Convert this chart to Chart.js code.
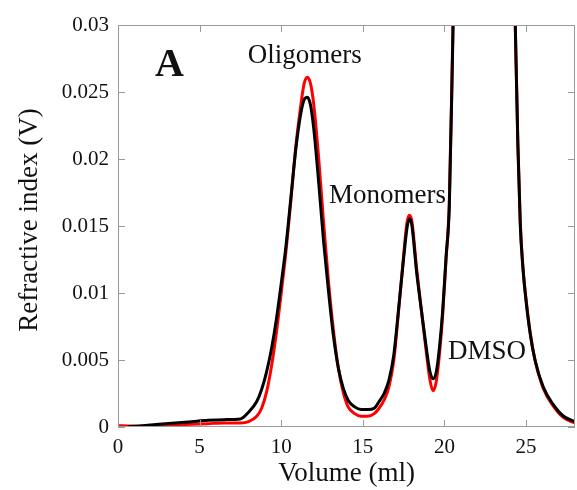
<!DOCTYPE html>
<html>
<head>
<meta charset="utf-8">
<script src="https://cdn.jsdelivr.net/npm/chart.js@4/dist/chart.umd.min.js"></script>
<style>
  html, body { margin: 0; padding: 0; background: #fff; }
  #wrap { width: 577px; height: 490px; }
</style>
</head>
<body>
<div id="wrap"><canvas id="gpc"></canvas></div>
<script>
// Elution volume (ml) at which both refractive-index traces are sampled
const volume = [0, 0.6, 1.5, 2.5, 3.5, 4.5, 5.5, 6.5, 7.5, 8.0, 8.5, 8.8, 9.1, 9.4, 9.7, 10.0,
  10.3, 10.6, 10.9, 11.2, 11.4, 11.6, 11.8, 12.0, 12.3, 12.6, 12.9, 13.2, 13.5, 13.8, 14.1,
  14.5, 14.9, 15.3, 15.7, 16.0, 16.3, 16.6, 16.9, 17.2, 17.5, 17.7, 17.85, 18.0, 18.3, 18.6,
  18.9, 19.1, 19.3, 19.5, 19.7, 19.9, 20.1, 20.3, 20.5, 21.0, 22.4, 24.0, 24.35, 24.5, 24.65,
  24.8, 24.95, 25.25, 25.55, 26.05, 26.65, 27.3, 28.0];

// Black trace (V)
const traceBlack = [null, 0.00002, 0.0001, 0.0002, 0.0003, 0.0004, 0.0005, 0.00055, 0.0006, 0.0011,
  0.0019, 0.0028, 0.0041, 0.0058, 0.0080, 0.0107, 0.0136, 0.0172, 0.0208, 0.0234, 0.0244, 0.0246,
  0.0240, 0.0222, 0.0182, 0.0138, 0.0101, 0.0068, 0.0044, 0.0029, 0.0020, 0.0015, 0.0013, 0.0013,
  0.0014, 0.0019, 0.0025, 0.0035, 0.0054, 0.0089, 0.0126, 0.0148, 0.01555, 0.0151, 0.0115, 0.0086,
  0.0058, 0.0042, 0.0036, 0.0041, 0.0060, 0.0088, 0.0127, 0.0165, 0.0280, 0.060, 0.12, 0.05,
  0.0295, 0.0210, 0.0150, 0.0120, 0.0100, 0.0070, 0.0050, 0.0030, 0.0017, 0.0008, 0.0004];

// Red trace (V)
const traceRed = [0.0001, 0.00008, 0.00005, 0.0001, 0.00015, 0.0002, 0.00025, 0.0003, 0.0003, 0.0004,
  0.0008, 0.0014, 0.0026, 0.0045, 0.0070, 0.0100, 0.0132, 0.0170, 0.0210, 0.0240, 0.0256, 0.0261,
  0.0256, 0.0240, 0.0200, 0.0152, 0.0108, 0.0072, 0.0044, 0.0026, 0.0015, 0.0010, 0.0008, 0.0008,
  0.0010, 0.0014, 0.0020, 0.0030, 0.0050, 0.0088, 0.0128, 0.0152, 0.0158, 0.0154, 0.0118, 0.0086,
  0.0055, 0.0036, 0.0027, 0.0034, 0.0055, 0.0085, 0.0125, 0.0168, 0.0285, 0.061, 0.12, 0.05,
  0.0295, 0.0212, 0.0152, 0.0121, 0.0101, 0.0071, 0.0050, 0.0029, 0.0016, 0.0007, 0.0003];

// Axis ranges and tick spacing
const xRange = [0, 28];
const xStep = 5;
const yRange = [0, 0.03];
const yStep = 0.005;

// Peak labels: [text, volume, signal]
const peakLabels = [
  ['Oligomers', 7.95, 0.0272],
  ['Monomers', 12.93, 0.0167],
  ['DMSO', 20.22, 0.0051]
];
const panelLetter = ['A', 2.27, 0.0262];
const yTitle = 'Refractive index (V)';

const SERIF = '"Liberation Serif", "Times New Roman", serif';

function toPoints(ys) {
  return volume.map((x, i) => ({ x: x, y: ys[i] }));
}

// Frame, inward tick marks on all four sides, and the text labels
const framePlugin = {
  id: 'frame',
  afterDatasetsDraw(chart) {
    const { ctx, chartArea: a, scales } = chart;
    const xs = scales.x, ys = scales.y;
    const len = 7;
    ctx.save();
    ctx.strokeStyle = '#9a9a9a';
    ctx.lineWidth = 1;
    ctx.strokeRect(a.left + 0.5, a.top + 0.5, a.right - a.left - 1, a.bottom - a.top - 1);
    ctx.beginPath();
    xs.ticks.forEach(t => {
      const px = Math.round(xs.getPixelForValue(t.value)) + 0.5;
      ctx.moveTo(px, a.bottom); ctx.lineTo(px, a.bottom - len);
      ctx.moveTo(px, a.top); ctx.lineTo(px, a.top + len);
    });
    ys.ticks.forEach(t => {
      const py = Math.round(ys.getPixelForValue(t.value)) + 0.5;
      ctx.moveTo(a.left, py); ctx.lineTo(a.left + len, py);
      ctx.moveTo(a.right, py); ctx.lineTo(a.right - len, py);
    });
    ctx.stroke();

    ctx.fillStyle = '#111';
    ctx.textAlign = 'left';
    ctx.textBaseline = 'alphabetic';
    ctx.font = '27px ' + SERIF;
    peakLabels.forEach(([txt, vx, vy]) => {
      ctx.fillText(txt, xs.getPixelForValue(vx), ys.getPixelForValue(vy));
    });
    ctx.font = 'bold 40px ' + SERIF;
    ctx.fillText(panelLetter[0], xs.getPixelForValue(panelLetter[1]), ys.getPixelForValue(panelLetter[2]));

    // vertical axis title, rotated, sitting a little above the plot's middle
    ctx.translate(37, (a.top + a.bottom) / 2 - 6);
    ctx.rotate(-Math.PI / 2);
    ctx.textAlign = 'center';
    ctx.font = '27px ' + SERIF;
    ctx.fillText(yTitle, 0, 0);
    ctx.restore();
  }
};

new Chart(document.getElementById('gpc'), {
  type: 'line',
  data: {
    datasets: [
      { data: toPoints(traceBlack), borderColor: '#000000', borderWidth: 3, pointRadius: 0,
        cubicInterpolationMode: 'monotone', spanGaps: false },
      { data: toPoints(traceRed), borderColor: '#ff0000', borderWidth: 3, pointRadius: 0,
        cubicInterpolationMode: 'monotone' }
    ]
  },
  options: {
    responsive: true,
    maintainAspectRatio: false,
    animation: false,
    layout: { padding: { left: 0, top: 25, right: 2, bottom: 0 } },
    plugins: { legend: { display: false }, tooltip: { enabled: false } },
    scales: {
      x: {
        type: 'linear', min: xRange[0], max: xRange[1],
        afterFit(s) { s.height = 63; },
        grid: { display: false, drawTicks: false },
        border: { display: false },
        ticks: { stepSize: xStep, includeBounds: false, maxRotation: 0, padding: 8,
          color: '#111', font: { family: SERIF, size: 21 } },
        title: { display: true, text: 'Volume (ml)', color: '#111', padding: { top: 0, bottom: 0 },
          font: { family: SERIF, size: 27, lineHeight: 1.2 } }
      },
      y: {
        type: 'linear', min: yRange[0], max: yRange[1],
        afterFit(s) { s.width = 118; },
        grid: { display: false, drawTicks: false },
        border: { display: false },
        ticks: { stepSize: yStep, padding: 9, color: '#111', font: { family: SERIF, size: 21 },
          callback: v => String(Number(v.toFixed(3))) },
        title: { display: false }
      }
    }
  },
  plugins: [framePlugin]
});
</script>
</body>
</html>
